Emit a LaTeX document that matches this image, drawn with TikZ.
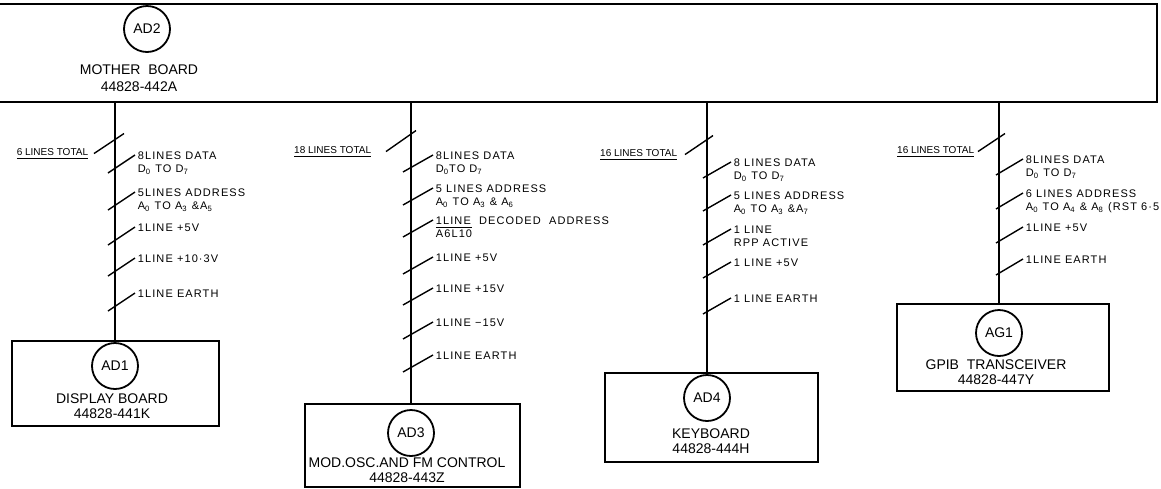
\documentclass[tikz,border=0pt]{standalone}
\usepackage{fontspec}
\setmainfont{Liberation Sans}
\newfontfamily\stencil[LetterSpace=10]{Liberation Sans}

% one unit of the picture is one pixel of the drawing
\def\px{0.5pt}
\newcommand{\ix}[1]{\textsubscript{#1}}

\begin{document}
\begin{tikzpicture}[
    x=0.5pt, y=-0.5pt,
    line width=0.9pt,
    board/.style={draw, rectangle, inner sep=0pt},
    chip/.style={draw, circle, inner sep=0pt, minimum size=46*\px,
        font=\fontsize{7}{8}\selectfont},
    title/.style={align=center, inner sep=0pt, font=\fontsize{7}{7.5}\selectfont},
    lbl/.style={anchor=north west, inner sep=0pt, align=left,
        font=\stencil\fontsize{5.5}{6.5}\selectfont},
    total/.style={anchor=base east, inner sep=0pt, font=\fontsize{5}{6}\selectfont},
    tick/.style={line width=0.7pt}
]
    \useasboundingbox (0,0) rectangle (1161,488);

    % Mother board (left edge runs off the sheet)
    \node[board, minimum width=1167*\px, minimum height=98*\px] (mb) at (573.5,53) {};
    \node[chip] (ad2) at (147,29) {AD2};
    \node[title, font=\fontsize{7}{8.5}\selectfont] (mbname) at (139,78)
        {MOTHER\ \ BOARD\\44828-442A};

    % Daughter boards
    \node[board, minimum width=207*\px, minimum height=85*\px] (ad1box) at (115.5,383.5) {};
    \node[chip] (ad1) at (115,366) {AD1};
    \node[title] (ad1name) at (112,406.5) {DISPLAY BOARD\\44828-441K};

    \node[board, minimum width=215*\px, minimum height=83*\px] (ad3box) at (412.5,445.5) {};
    \node[chip] (ad3) at (411,433) {AD3};
    \node[title] (ad3name) at (407,470.5) {MOD.OSC.AND FM CONTROL\\44828-443Z};

    \node[board, minimum width=213*\px, minimum height=89*\px] (ad4box) at (711.5,417.5) {};
    \node[chip] (ad4) at (707,398) {AD4};
    \node[title] (ad4name) at (711,441.5) {KEYBOARD\\44828-444H};

    \node[board, minimum width=212*\px, minimum height=87*\px] (ag1box) at (1003,347.5) {};
    \node[chip] (ag1) at (999,333) {AG1};
    \node[title] (ag1name) at (996,372.5) {GPIB\ \ TRANSCEIVER\\44828-447Y};

    % Buses from the mother board
    \draw (ad1 |- mb.south) -- (ad1box.north -| ad1);
    \draw (ad3 |- mb.south) -- (ad3box.north -| ad3);
    \draw (ad4 |- mb.south) -- (ad4box.north -| ad4);
    \draw (ag1 |- mb.south) -- (ag1box.north -| ag1);

    % Bus to AD1
    \node[total] (t1) at (89,155) {\underline{6 LINES TOTAL}};
    \draw[tick] ([xshift=2.5pt]t1.east) -- ++(30,-20);
    \node[lbl] (a11) at (137,151) {8LINES DATA\\D\ix{0} TO D\ix{7}};
    \node[lbl] (a12) at (137,188) {5LINES ADDRESS\\A\ix{0} TO A\ix{3} \&A\ix{5}};
    \node[lbl] (a13) at (137,223) {1LINE +5V};
    \node[lbl] (a14) at (137,254) {1LINE +10·3V};
    \node[lbl] (a15) at (137,289) {1LINE EARTH};
    \foreach \n in {a11,a12,a13,a14,a15}
        \draw[tick] ([shift={(-2,4)}]\n.north west) -- ++(-27,18);

    % Bus to AD3
    \node[total] (t3) at (372,153) {\underline{18 LINES TOTAL}};
    \draw[tick] ([xshift=7pt]t3.east) -- ++(30,-21);
    \node[lbl] (a31) at (435,151) {8LINES DATA\\D\ix{0}TO D\ix{7}};
    \node[lbl] (a32) at (435,184) {5 LINES ADDRESS\\A\ix{0} TO A\ix{3} \& A\ix{6}};
    \node[lbl] (a33) at (435,216) {1LINE\ \ DECODED\ \ ADDRESS\\$\overline{\hbox{A6L10}}$};
    \node[lbl] (a34) at (435,253) {1LINE +5V};
    \node[lbl] (a35) at (435,284) {1LINE +15V};
    \node[lbl] (a36) at (435,318) {1LINE −15V};
    \node[lbl] (a37) at (435,351) {1LINE EARTH};
    \foreach \n in {a31,a32,a33,a34,a35,a36,a37}
        \draw[tick] ([shift={(-2,4)}]\n.north west) -- ++(-30,17);

    % Bus to AD4
    \node[total] (t4) at (678,156) {\underline{16 LINES TOTAL}};
    \draw[tick] ([xshift=3.5pt]t4.east) -- ++(28,-19);
    \node[lbl] (a41) at (733,158) {8 LINES DATA\\D\ix{0} TO D\ix{7}};
    \node[lbl] (a42) at (733,191) {5 LINES ADDRESS\\A\ix{0} TO A\ix{3} \&A\ix{7}};
    \node[lbl] (a43) at (733,225) {1 LINE\\RPP ACTIVE};
    \node[lbl] (a44) at (733,258) {1 LINE +5V};
    \node[lbl] (a45) at (733,294) {1 LINE EARTH};
    \foreach \n in {a41,a42,a43,a44,a45}
        \draw[tick] ([shift={(-2,4)}]\n.north west) -- ++(-28,16);

    % Bus to AG1
    \node[total] (tg) at (975,153) {\underline{16 LINES TOTAL}};
    \draw[tick] ([xshift=1.5pt]tg.east) -- ++(27,-18);
    \node[lbl] (g1) at (1025,155) {8LINES DATA\\D\ix{0} TO D\ix{7}};
    \node[lbl] (g2) at (1025,189) {6 LINES ADDRESS\\A\ix{0} TO A\ix{4} \& A\ix{8} (RST 6·5};
    \node[lbl] (g3) at (1025,223) {1LINE +5V};
    \node[lbl] (g4) at (1025,255) {1LINE EARTH};
    \foreach \n in {g1,g2,g3,g4}
        \draw[tick] ([shift={(-2,4)}]\n.north west) -- ++(-27,16);

\end{tikzpicture}
\end{document}
